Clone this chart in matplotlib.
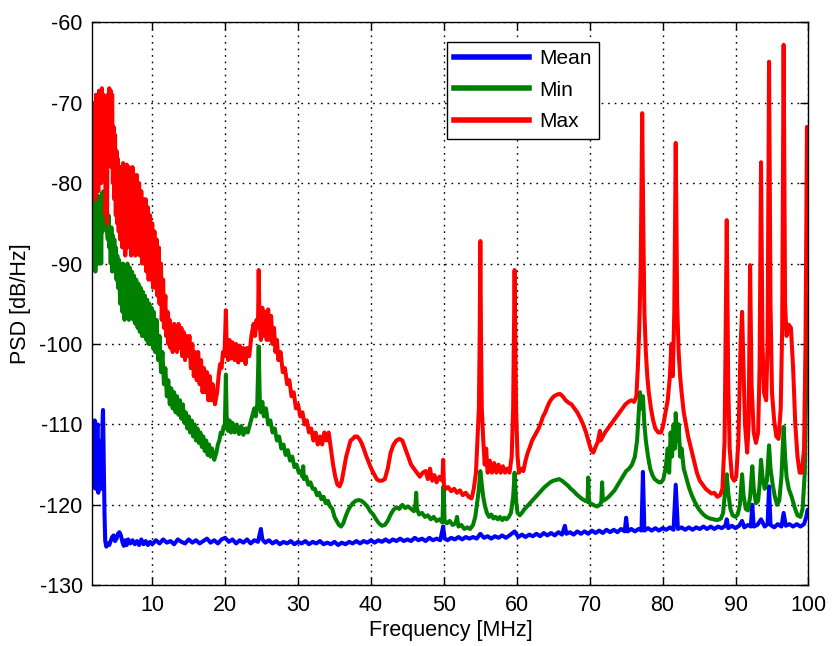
import matplotlib
matplotlib.use("Agg")
import matplotlib.pyplot as plt

plt.rcParams['font.family'] = ['Liberation Sans', 'DejaVu Sans']
plt.rcParams['axes.unicode_minus'] = False

# ---- data (frequency in MHz, PSD in dB/Hz) ----
max_trace = [
    (1.8, -80), (1.9, -71), (2.0, -78), (2.1, -70), (2.2, -82), (2.3, -69), (2.4, -77), (2.5, -70),
    (2.6, -81), (2.7, -68.5), (2.8, -76), (2.9, -69), (3.0, -80), (3.1, -68.2), (3.2, -75), (3.3, -69),
    (3.4, -79), (3.5, -70), (3.6, -84), (3.7, -78), (3.8, -85), (3.9, -69), (4.0, -76), (4.1, -68.2),
    (4.2, -74), (4.3, -68.5), (4.4, -78), (4.5, -69), (4.6, -80), (4.7, -73), (4.8, -82), (4.9, -74),
    (5.0, -84), (5.1, -76), (5.2, -85), (5.3, -77), (5.4, -86), (5.5, -78), (5.6, -87), (5.7, -80), (5.8, -78),
    (5.9, -88), (6.0, -77.5), (6.1, -86), (6.2, -78), (6.3, -89), (6.4, -82), (6.5, -77.7), (6.6, -88), (6.7, -83), (6.8, -78),
    (6.9, -87), (7.0, -78.5), (7.1, -89), (7.2, -84), (7.3, -78), (7.4, -88), (7.5, -83), (7.6, -79), (7.7, -89), (7.8, -84), (7.9, -79),
    (8.0, -88), (8.1, -84), (8.2, -80), (8.3, -89), (8.4, -85), (8.5, -81), (8.6, -90), (8.7, -86), (8.8, -82), (8.9, -90), (9.0, -86), (9.1, -82),
    (9.2, -91), (9.3, -87), (9.4, -83), (9.5, -92), (9.6, -88), (9.7, -84), (9.8, -92), (9.9, -88), (10.0, -85), (10.1, -93), (10.2, -89), (10.3, -86),
    (10.4, -93), (10.5, -90), (10.6, -87), (10.7, -94), (10.8, -91), (10.9, -88), (11.0, -95), (11.1, -92), (11.2, -90), (11.3, -97), (11.4, -94), (11.5, -92),
    (11.6, -98), (11.8, -94), (11.9, -99), (12.1, -96), (12.2, -100), (12.4, -97), (12.5, -100.5),
    (12.7, -98), (12.8, -101), (13.0, -97.5), (13.1, -100), (13.3, -98), (13.4, -101), (13.6, -97.5),
    (13.8, -100.5), (14.0, -98), (14.1, -101.5), (14.3, -98.5), (14.5, -102), (14.7, -99), (14.9, -101.5),
    (15.1, -99), (15.3, -103), (15.5, -100), (15.7, -104), (15.9, -101), (16.1, -104.5), (16.3, -101),
    (16.5, -105), (16.7, -102), (16.9, -106), (17.1, -103), (17.3, -106), (17.5, -103.5), (17.7, -107),
    (17.9, -104), (18.1, -107), (18.3, -105), (18.6, -107.5), (18.9, -106), (19.1, -104), (19.3, -102.5),
    (19.5, -103), (19.7, -101), (19.9, -101.5), (20.1, -95.8), (20.2, -100), (20.4, -102), (20.6, -99.5),
    (20.8, -101.8), (21.0, -99.8), (21.3, -102), (21.5, -100), (21.8, -102.3), (22.0, -100.2), (22.3, -102),
    (22.5, -100.5), (22.8, -102.5), (23.0, -100.5), (23.3, -101.5), (23.6, -99), (23.9, -97.5), (24.1, -99),
    (24.3, -97), (24.5, -98), (24.6, -90.8), (24.7, -97), (24.9, -99.5), (25.1, -95.5), (25.3, -99),
    (25.5, -96), (25.7, -99.5), (25.9, -95.7), (26.1, -99.5), (26.3, -96.5), (26.5, -100), (26.7, -98),
    (26.9, -101), (27.1, -99.5), (27.3, -102), (27.6, -101), (27.9, -103.5), (28.2, -103), (28.5, -105),
    (28.8, -104.5), (29.1, -106.5), (29.4, -106), (29.7, -108), (30.0, -107.5), (30.3, -109), (30.6, -108.5),
    (30.9, -110), (31.2, -109.5), (31.5, -111), (31.8, -110.5), (32.1, -112), (32.4, -111), (32.7, -112.5),
    (33.0, -111.5), (33.3, -112.5), (33.6, -111), (33.9, -112), (34.2, -111), (34.5, -113), (34.8, -115),
    (35.1, -116.5), (35.4, -117.5), (35.7, -117.7), (36.0, -117), (36.3, -115.5), (36.6, -114), (36.9, -113),
    (37.2, -112), (37.5, -111.8), (37.8, -111.5), (38.1, -111.5), (38.4, -111.8), (38.7, -112.3), (39.0, -113),
    (39.3, -113.8), (39.6, -114.5), (39.9, -115.2), (40.2, -115.8), (40.5, -116.3), (40.8, -116.8), (41.1, -117),
    (41.5, -117), (41.9, -116.8), (42.3, -115.5), (42.7, -113.5), (43.1, -112.5), (43.5, -112), (43.9, -111.8),
    (44.3, -112), (44.7, -113), (45.1, -114), (45.5, -115), (45.9, -115.5), (46.3, -116), (46.7, -116.5),
    (47.1, -116), (47.5, -115.8), (47.8, -116.8), (48.1, -115.5), (48.4, -117), (48.7, -116.3), (49.0, -117.2),
    (49.4, -116.5), (49.8, -117), (49.9, -114.4), (50.0, -117.5), (50.3, -118), (50.6, -117.8), (51.0, -118.3),
    (51.4, -118), (51.8, -118.5), (52.2, -118.2), (52.6, -118.8), (53.0, -118.5), (53.4, -119), (53.8, -119.2),
    (54.1, -118), (54.4, -116), (54.6, -112), (54.8, -108), (54.9, -100), (55.0, -87.2), (55.1, -100),
    (55.2, -108), (55.4, -112), (55.6, -115), (55.8, -113), (56.0, -116), (56.3, -114.5), (56.6, -116),
    (56.9, -114.8), (57.2, -116), (57.5, -115), (57.8, -116), (58.1, -115.2), (58.4, -116), (58.7, -115.5),
    (59.0, -116), (59.3, -114), (59.5, -108), (59.7, -90.8), (59.9, -108), (60.1, -114), (60.3, -116),
    (60.6, -115.5), (60.9, -115.8), (61.2, -114.5), (61.5, -113.5), (61.8, -112.8), (62.1, -112), (62.4, -111.5),
    (62.7, -111), (63.0, -110.5), (63.3, -109.8), (63.6, -109), (63.9, -108.5), (64.2, -107.8), (64.5, -107.2),
    (64.8, -106.8), (65.1, -106.5), (65.5, -106.3), (65.9, -106.2), (66.3, -106.5), (66.7, -107), (67.1, -107.3),
    (67.5, -107.5), (67.9, -108), (68.3, -108.5), (68.7, -109.2), (69.1, -110), (69.5, -111), (69.9, -112.3),
    (70.2, -113.2), (70.5, -113.5), (70.8, -112.8), (71.1, -112.2), (71.4, -110.8), (71.5, -112), (71.8, -111.5),
    (72.1, -111), (72.5, -110.5), (72.9, -110), (73.3, -109.5), (73.7, -109), (74.1, -108.5), (74.5, -108),
    (74.9, -107.5), (75.3, -107.2), (75.7, -107), (76.1, -107.2), (76.4, -106.5), (76.6, -103), (76.8, -98),
    (77.0, -90), (77.2, -71.3), (77.35, -85), (77.5, -96), (77.7, -101), (77.9, -104), (78.1, -106),
    (78.4, -108), (78.7, -109.5), (79.0, -110.5), (79.4, -111), (79.8, -111), (80.1, -110), (80.4, -108.5),
    (80.7, -107), (81.0, -104), (81.2, -100), (81.4, -104), (81.6, -96), (81.8, -75), (82.0, -95),
    (82.2, -101), (82.4, -104), (82.6, -106), (82.9, -108.5), (83.2, -110), (83.5, -111.5), (83.9, -113),
    (84.3, -114.5), (84.7, -116), (85.1, -117), (85.5, -117.5), (85.9, -118), (86.3, -118.3), (86.7, -118.6),
    (87.1, -118.5), (87.5, -119), (87.9, -118.8), (88.2, -118), (88.5, -112), (88.8, -84.6), (89.0, -105),
    (89.2, -113), (89.5, -116.5), (89.8, -117), (90.1, -116.5), (90.4, -112), (90.7, -100), (90.9, -96),
    (91.1, -103), (91.3, -110), (91.6, -113.5), (91.8, -110), (92.0, -90.2), (92.2, -105), (92.5, -111),
    (92.8, -112.3), (93.1, -111), (93.3, -103), (93.5, -77.4), (93.7, -100), (93.9, -106), (94.2, -107),
    (94.4, -100), (94.6, -64.9), (94.8, -95), (95.0, -106), (95.3, -109.5), (95.6, -111.5), (95.9, -111.8),
    (96.2, -108), (96.4, -98), (96.6, -62.8), (96.8, -95), (97.0, -99), (97.3, -97.6), (97.6, -98),
    (97.9, -103), (98.2, -110), (98.5, -114), (98.8, -116), (99.1, -116), (99.4, -113), (99.6, -100),
    (99.8, -73), (100.0, -90),
]

min_trace = [
    (1.8, -90), (1.9, -82), (2.0, -89), (2.1, -83), (2.2, -91), (2.3, -82), (2.4, -88), (2.5, -81.5),
    (2.6, -90), (2.7, -82), (2.8, -87), (2.9, -83), (3.0, -90), (3.1, -81.2), (3.2, -86), (3.3, -81),
    (3.4, -84), (3.5, -81.5), (3.6, -85), (3.7, -82), (3.8, -86), (3.9, -87), (4.0, -84), (4.1, -88),
    (4.2, -85.5), (4.3, -90), (4.4, -85.5), (4.5, -91), (4.6, -86.5), (4.7, -90), (4.8, -87), (4.9, -91),
    (5.0, -88), (5.1, -92), (5.2, -89), (5.3, -93), (5.4, -89.5), (5.5, -92), (5.6, -95), (5.7, -90), (5.8, -93), (5.9, -96),
    (6.0, -90), (6.1, -93), (6.2, -97), (6.3, -90.5), (6.4, -94), (6.5, -96.5), (6.6, -90), (6.7, -93), (6.8, -97), (6.9, -90.5), (7.0, -94), (7.1, -96),
    (7.2, -91), (7.3, -94), (7.4, -97), (7.5, -91.5), (7.6, -95), (7.7, -97.5), (7.8, -92), (7.9, -95), (8.0, -98), (8.1, -92.5), (8.2, -96), (8.3, -98.5),
    (8.4, -93), (8.5, -96), (8.6, -99), (8.7, -93.5), (8.8, -96.5), (8.9, -99), (9.0, -94), (9.1, -97), (9.2, -99.5), (9.3, -94.5), (9.4, -97.5), (9.5, -100),
    (9.6, -95), (9.7, -98), (9.8, -100), (9.9, -95.5), (10.0, -98), (10.1, -100.5), (10.2, -96), (10.3, -98.5), (10.4, -101), (10.6, -97),
    (10.8, -102), (11.0, -99), (11.2, -103.5), (11.4, -101), (11.6, -105), (11.8, -103), (12.0, -106.5),
    (12.2, -104.5), (12.4, -107.5), (12.6, -105.5), (12.8, -108), (13.0, -106), (13.2, -108.5), (13.4, -106.5),
    (13.6, -108.8), (13.8, -107), (14.0, -109.3), (14.2, -107.5), (14.4, -109.8), (14.6, -108.5), (14.8, -110.5),
    (15.0, -109), (15.2, -111), (15.4, -109.5), (15.6, -111.5), (15.8, -110), (16.0, -112), (16.2, -110.5),
    (16.4, -112.3), (16.6, -111), (16.8, -112.8), (17.0, -111.5), (17.2, -113.3), (17.4, -112), (17.6, -113.8),
    (17.8, -112.5), (18.0, -114), (18.2, -113), (18.5, -114.4), (18.8, -113.5), (19.0, -112.5), (19.2, -112),
    (19.4, -111), (19.6, -111.2), (19.8, -110.2), (19.95, -110.5), (20.1, -103.8), (20.2, -109), (20.4, -110.8),
    (20.6, -109.5), (20.8, -111), (21.0, -109.8), (21.3, -111), (21.6, -110), (21.9, -111.2), (22.2, -110.2),
    (22.5, -111.3), (22.8, -110.5), (23.1, -111), (23.4, -110), (23.7, -109), (24.0, -108), (24.2, -109),
    (24.4, -107.5), (24.6, -100.3), (24.75, -107), (24.9, -108.5), (25.1, -107.2), (25.3, -109), (25.6, -108),
    (25.9, -110), (26.2, -109.5), (26.5, -111), (26.8, -110.5), (27.1, -112), (27.4, -111.5), (27.7, -113),
    (28.0, -112.5), (28.3, -113.8), (28.6, -113.2), (28.9, -114.5), (29.2, -114), (29.5, -115.3), (29.8, -115),
    (30.1, -116), (30.4, -115.8), (30.6, -116.5), (30.7, -115.2), (30.8, -116.8), (31.1, -116.5), (31.4, -117.5),
    (31.7, -117.2), (32.0, -118), (32.3, -118), (32.6, -118.8), (32.9, -118.5), (33.2, -119.3), (33.5, -119),
    (33.8, -119.8), (34.1, -119.5), (34.4, -120.2), (34.7, -120.5), (35.0, -121.5), (35.3, -122), (35.6, -122.5),
    (35.9, -122.7), (36.2, -122.3), (36.5, -121.5), (36.8, -120.8), (37.1, -120.3), (37.5, -119.8), (37.9, -119.5),
    (38.3, -119.4), (38.7, -119.5), (39.1, -119.8), (39.5, -120.2), (39.9, -120.8), (40.3, -121.2), (40.7, -121.8),
    (41.1, -122.3), (41.5, -122.6), (41.9, -122.5), (42.3, -122), (42.7, -121.2), (43.1, -120.6), (43.5, -120.3),
    (43.9, -120.5), (44.3, -120), (44.7, -120.4), (45.1, -120.2), (45.5, -120.5), (45.9, -120.8), (46.1, -120),
    (46.2, -118.5), (46.3, -120.5), (46.6, -121.2), (47.0, -121), (47.4, -121.5), (47.8, -121.3), (48.2, -121.8),
    (48.6, -121.5), (49.0, -122), (49.4, -121.8), (49.8, -122.2), (49.95, -117.7), (50.1, -122), (50.4, -122.3),
    (50.8, -122), (51.2, -122.5), (51.6, -122.3), (51.8, -121.5), (52.0, -122.7), (52.4, -122.5), (52.8, -123),
    (53.2, -122.8), (53.6, -123), (54.0, -122.5), (54.3, -121.5), (54.6, -119.5), (54.8, -118), (55.0, -115.8),
    (55.2, -117.5), (55.4, -119), (55.6, -120), (55.9, -121), (56.2, -121.5), (56.5, -121.2), (56.8, -121.7),
    (57.1, -121.5), (57.4, -121.8), (57.7, -121.5), (58.0, -121.9), (58.3, -121.6), (58.6, -121.8), (58.9, -121.5),
    (59.2, -121), (59.5, -119), (59.7, -116), (59.9, -119.5), (60.1, -121), (60.4, -121.3), (60.7, -121),
    (61.0, -120.6), (61.4, -120.2), (61.8, -119.8), (62.2, -119.4), (62.6, -119), (63.0, -118.6), (63.4, -118.2),
    (63.8, -117.8), (64.2, -117.5), (64.6, -117.2), (65.0, -117), (65.4, -116.9), (65.8, -116.8), (66.2, -117),
    (66.6, -117.3), (67.0, -117.6), (67.4, -118), (67.8, -118.3), (68.2, -118.7), (68.6, -119), (69.0, -119.3),
    (69.4, -119.5), (69.7, -119.6), (69.8, -116.6), (69.9, -119.7), (70.3, -119.9), (70.7, -120.1), (71.0, -120.2),
    (71.4, -120), (71.6, -119.6), (71.7, -117.2), (71.8, -119.5), (72.2, -119.3), (72.6, -119), (73.0, -118.6),
    (73.4, -118.2), (73.8, -117.6), (74.2, -117), (74.6, -116.4), (75.0, -115.8), (75.4, -115.5), (75.8, -115),
    (76.2, -114), (76.5, -112), (76.7, -109), (76.9, -106), (77.1, -108), (77.3, -106.5), (77.5, -110),
    (77.7, -112), (78.0, -114), (78.3, -115.5), (78.6, -116.3), (78.9, -116.8), (79.2, -117), (79.5, -117.2),
    (79.8, -117.2), (80.1, -116.8), (80.4, -115.5), (80.7, -113), (80.9, -116), (81.1, -111), (81.3, -114),
    (81.5, -110), (81.7, -113), (81.8, -108.6), (82.0, -112), (82.2, -110), (82.4, -114), (82.6, -113),
    (82.9, -115.5), (83.2, -116.5), (83.6, -117.8), (84.0, -118.8), (84.4, -119.6), (84.8, -120.3), (85.2, -120.8),
    (85.6, -121.2), (86.0, -121.5), (86.5, -121.7), (87.0, -121.8), (87.5, -121.9), (88.0, -121.7), (88.3, -121),
    (88.5, -119), (88.8, -116.2), (89.0, -118.5), (89.3, -120.5), (89.6, -121.3), (90.0, -121.5), (90.3, -121.2),
    (90.6, -120), (90.9, -116.2), (91.1, -118.8), (91.4, -120.5), (91.7, -120.7), (92.0, -119), (92.3, -115.2),
    (92.5, -118), (92.8, -119.8), (93.1, -119.5), (93.3, -117.5), (93.5, -114.4), (93.7, -116.5), (94.0, -118),
    (94.3, -117), (94.6, -112.6), (94.8, -115.5), (95.1, -117.5), (95.4, -119), (95.7, -120), (96.0, -119.5),
    (96.3, -116.5), (96.6, -110.3), (96.8, -114), (97.0, -116.5), (97.3, -118), (97.7, -119), (98.1, -120.3),
    (98.5, -121.3), (98.9, -121.5), (99.2, -120.5), (99.5, -116), (99.7, -105), (99.9, -94), (100.0, -96),
]

mean_trace = [
    (1.8, -115), (1.9, -110), (2.0, -117), (2.05, -111), (2.1, -109.5), (2.2, -118), (2.25, -112), (2.3, -111),
    (2.4, -116), (2.45, -110.5), (2.5, -110), (2.6, -118.5), (2.65, -113), (2.7, -112), (2.8, -117), (2.85, -112.5),
    (2.9, -114), (3.0, -118), (3.05, -113), (3.1, -115), (3.2, -109), (3.25, -108.2),
    (3.35, -115), (3.45, -121), (3.55, -124.5), (3.7, -125.2), (3.9, -124.8), (4.1, -125), (4.3, -124.5),
    (4.5, -124), (4.7, -123.8), (4.9, -124.5), (5.1, -124.2), (5.3, -123.6), (5.5, -123.4), (5.7, -123.8),
    (5.9, -124.6), (6.1, -125.1), (6.3, -124.4), (6.5, -125), (6.7, -124.3), (7.0, -124.8), (7.3, -124.4),
    (7.6, -124.9), (7.9, -124.5), (8.2, -125), (8.5, -124.3), (8.8, -124.9), (9.1, -124.5), (9.4, -125),
    (9.7, -124.6), (10.0, -124.9), (10.5, -124.4), (11.0, -124.8), (11.5, -124.3), (12.0, -124.7), (12.5, -124.5),
    (13.0, -124.9), (13.5, -124.3), (14.0, -124.6), (14.5, -124.8), (15.0, -124.3), (15.5, -124.7), (16.0, -124.4),
    (16.5, -124.8), (17.0, -124.5), (17.5, -124.2), (18.0, -124.7), (18.5, -124.4), (19.0, -124.8), (19.5, -124.3),
    (20.0, -124.1), (20.5, -124.6), (21.0, -124.3), (21.5, -124.8), (22.0, -124.4), (22.5, -124.7), (23.0, -124.3),
    (23.5, -124.8), (24.0, -124.4), (24.5, -124.6), (24.9, -123), (25.1, -124.3), (25.5, -124.7), (26.0, -124.4),
    (26.5, -124.8), (27.0, -124.5), (27.5, -124.9), (28.0, -124.6), (28.5, -124.8), (29.0, -124.5), (29.5, -124.9),
    (30.0, -124.6), (30.5, -124.8), (31.0, -124.5), (31.5, -124.9), (32.0, -124.6), (32.5, -124.8), (33.0, -124.5),
    (33.5, -124.9), (34.0, -124.7), (34.5, -124.9), (35.0, -124.6), (35.5, -125), (36.0, -124.7), (36.5, -124.9),
    (37.0, -124.6), (37.5, -124.8), (38.0, -124.5), (38.5, -124.8), (39.0, -124.5), (39.5, -124.7), (40.0, -124.4),
    (40.5, -124.7), (41.0, -124.4), (41.5, -124.6), (42.0, -124.3), (42.5, -124.6), (43.0, -124.3), (43.5, -124.5),
    (44.0, -124.2), (44.5, -124.5), (45.0, -124.3), (45.5, -124.5), (46.0, -124.1), (46.5, -124.4), (47.0, -124.2),
    (47.5, -124.5), (48.0, -124.1), (48.5, -124.4), (49.0, -124.2), (49.5, -124.4), (49.9, -122.7), (50.1, -124.2),
    (50.5, -124.4), (51.0, -124.1), (51.5, -124.3), (52.0, -124), (52.5, -124.3), (53.0, -124), (53.5, -124.2),
    (54.0, -124), (54.5, -124.2), (55.0, -123.6), (55.5, -124.1), (56.0, -123.9), (56.5, -124.2), (57.0, -123.9),
    (57.5, -124.1), (58.0, -123.8), (58.5, -124.1), (59.0, -123.8), (59.7, -123.3), (60.2, -124), (60.7, -123.7),
    (61.2, -124), (61.7, -123.7), (62.2, -123.9), (62.7, -123.6), (63.2, -123.9), (63.7, -123.5), (64.2, -123.8),
    (64.7, -123.5), (65.2, -123.8), (65.7, -123.4), (66.2, -123.7), (66.6, -122.6), (66.8, -123.6), (67.3, -123.4),
    (67.8, -123.7), (68.3, -123.3), (68.8, -123.6), (69.3, -123.3), (69.8, -123.6), (70.3, -123.2), (70.8, -123.5),
    (71.3, -123.2), (71.8, -123.5), (72.3, -123.1), (72.8, -123.4), (73.3, -123.1), (73.8, -123.4), (74.3, -123),
    (74.8, -123.3), (75.0, -121.6), (75.2, -123.3), (75.7, -123), (76.2, -123.3), (76.7, -123), (77.1, -123.2),
    (77.3, -115.9), (77.5, -123.2), (78.0, -122.9), (78.5, -123.2), (79.0, -122.9), (79.5, -123.2), (80.0, -122.9),
    (80.5, -123.1), (81.0, -122.8), (81.5, -123.1), (81.8, -117.5), (82.1, -123), (82.6, -122.8), (83.1, -123.1),
    (83.6, -122.8), (84.1, -123.1), (84.6, -122.8), (85.1, -123), (85.6, -122.7), (86.1, -123), (86.6, -122.7),
    (87.1, -123), (87.6, -122.7), (88.1, -122.9), (88.6, -122.6), (88.8, -121.8), (89.0, -122.9), (89.5, -122.6),
    (90.0, -122.9), (90.5, -122.6), (90.9, -122), (91.2, -122.8), (91.7, -122.5), (92.1, -122.7), (92.3, -120),
    (92.5, -122.7), (93.0, -122.5), (93.5, -121.8), (94.0, -122.7), (94.4, -122.4), (94.6, -117.7), (94.8, -122.5),
    (95.3, -122.8), (95.8, -122.4), (96.3, -122.7), (96.6, -121), (96.9, -122.6), (97.4, -122.4), (97.9, -122.7),
    (98.4, -122.4), (98.9, -122.7), (99.4, -122.4), (99.7, -121.5), (99.9, -120.6), (100.0, -121),
]

series_labels = ["Mean", "Min", "Max"]
series_colors = ["#0000ff", "#008000", "#ff0000"]
x_ticks = [10, 20, 30, 40, 50, 60, 70, 80, 90, 100]
y_ticks = [-130, -120, -110, -100, -90, -80, -70, -60]
x_label = "Frequency [MHz]"
y_label = "PSD [dB/Hz]"

fig = plt.figure(figsize=(8.33, 6.46), dpi=100)
ax = fig.add_axes([0.111, 0.094, 0.8595, 0.8715])

for trace, lab, col in zip([mean_trace, min_trace, max_trace], series_labels, series_colors):
    xs = [p[0] for p in trace]
    ys = [p[1] for p in trace]
    ax.plot(xs, ys, color=col, lw=2.9, label=lab, solid_joinstyle='round')

ax.set_xlim(1.8, 100)
ax.set_ylim(-130, -60)
ax.set_xticks(x_ticks)
ax.set_yticks(y_ticks)
ax.grid(True, color='black', linestyle=(0, (1.2, 3.5)), linewidth=1.0)
ax.tick_params(direction='in', top=True, right=True, length=6, width=1, labelsize=15.5, pad=7)
for s in ax.spines.values():
    s.set_linewidth(1.0)
ax.set_xlabel(x_label, fontsize=15.5, labelpad=3)
ax.set_ylabel(y_label, fontsize=15.5, labelpad=6)

leg = ax.legend(loc='upper left', bbox_to_anchor=(0.495, 0.965), fontsize=15, fancybox=False,
                framealpha=1, edgecolor='black', handlelength=3.6, borderpad=0.35,
                labelspacing=0.6, handletextpad=0.5, borderaxespad=0)
leg.get_frame().set_linewidth(1.0)
for h in leg.get_lines():
    h.set_linewidth(4.0)

fig.savefig("out.png", dpi=100)
